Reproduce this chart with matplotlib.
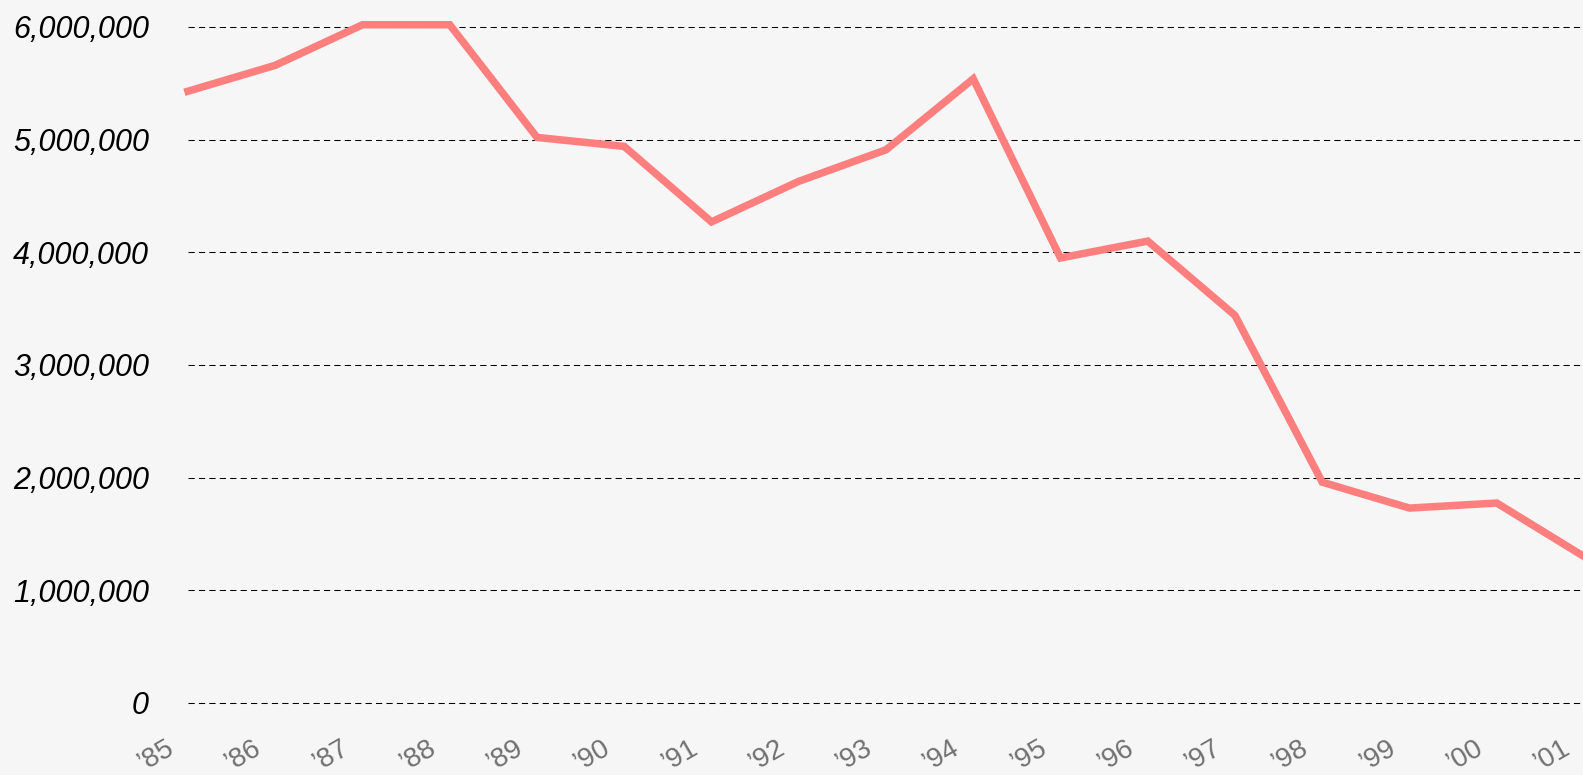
import matplotlib
matplotlib.use("Agg")
import matplotlib.pyplot as plt
from matplotlib.ticker import FuncFormatter, MultipleLocator
from matplotlib.transforms import ScaledTranslation

years = ["\u201985", "\u201986", "\u201987", "\u201988", "\u201989", "\u201990",
         "\u201991", "\u201992", "\u201993", "\u201994", "\u201995", "\u201996",
         "\u201997", "\u201998", "\u201999", "\u201900", "\u201901"]
values = [5430000, 5660000, 6020000, 6020000, 5020000, 4940000, 4270000,
          4630000, 4910000, 5540000, 3950000, 4100000, 3440000, 1960000,
          1730000, 1775000, 1300000]

plt.rcParams['font.family'] = ['Liberation Sans', 'DejaVu Sans']

fig = plt.figure(figsize=(15.83, 7.75), dpi=100)
bg = '#f6f6f6'
fig.patch.set_facecolor(bg)
ax = fig.add_axes([188 / 1583, 1 - 703 / 775, (1584 - 188) / 1583, (703 - 27) / 775])
ax.set_facecolor(bg)

x = list(range(len(years)))
ax.plot(x, values, color='#ff7f7f', lw=5.4, solid_joinstyle='miter', clip_on=False, zorder=3)

ax.set_xlim(0, len(years) - 1)
ax.set_ylim(0, 6000000)
ax.yaxis.set_major_locator(MultipleLocator(1000000))
ax.yaxis.set_major_formatter(FuncFormatter(lambda v, p: f"{int(v):,}"))
for gl in range(0, 7000000, 1000000):
    ax.axhline(gl, color='#000000', lw=0.75, linestyle=(0, (6, 4)), zorder=1, clip_on=False)
for s in ax.spines.values():
    s.set_visible(False)

ax.tick_params(axis='y', length=0, pad=28, labelsize=22, labelcolor='#000000')
ax.tick_params(axis='x', length=0, pad=31, labelsize=20, labelcolor='#707070')
for lab in ax.get_yticklabels():
    lab.set_fontstyle('italic')
ax.set_xticks(x)
ax.set_xticklabels(years, rotation=30, ha='right', va='center', rotation_mode='anchor')
for lab in ax.get_xticklabels():
    lab.set_transform(lab.get_transform() + ScaledTranslation(-0.16, 0, fig.dpi_scale_trans))

fig.savefig('out.png', dpi=100, facecolor=bg)
